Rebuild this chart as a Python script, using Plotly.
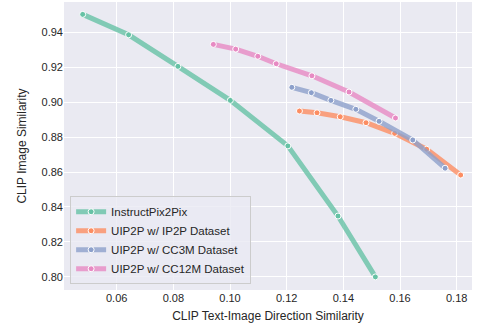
import plotly.graph_objects as go

series_names = ["InstructPix2Pix", "UIP2P w/ IP2P Dataset", "UIP2P w/ CC3M Dataset", "UIP2P w/ CC12M Dataset"]

ip2p_x = [0.048, 0.0642, 0.0816, 0.1001, 0.1204, 0.1381, 0.1513]
ip2p_y = [0.9504, 0.9387, 0.9206, 0.9011, 0.8750, 0.8348, 0.7999]

uip2p_ip2p_x = [0.1245, 0.1307, 0.1389, 0.1480, 0.1581, 0.1694, 0.1814]
uip2p_ip2p_y = [0.8950, 0.8940, 0.8917, 0.8883, 0.8822, 0.8731, 0.8583]

uip2p_cc3m_x = [0.1218, 0.1287, 0.1356, 0.1444, 0.1526, 0.1645, 0.1759]
uip2p_cc3m_y = [0.9086, 0.9055, 0.9011, 0.8960, 0.8891, 0.8784, 0.8622]

uip2p_cc12m_x = [0.0941, 0.1020, 0.1098, 0.1163, 0.1289, 0.1420, 0.1584]
uip2p_cc12m_y = [0.9332, 0.9305, 0.9264, 0.9221, 0.9152, 0.9059, 0.8910]

line_colors = ["rgba(102,194,165,0.8)", "rgba(252,141,98,0.8)", "rgba(141,160,203,0.8)", "rgba(231,138,195,0.8)"]
marker_colors = ["#66c2a5", "#fc8d62", "#8da0cb", "#e78ac3"]

xs = [ip2p_x, uip2p_ip2p_x, uip2p_cc3m_x, uip2p_cc12m_x]
ys = [ip2p_y, uip2p_ip2p_y, uip2p_cc3m_y, uip2p_cc12m_y]

fig = go.Figure()
for name, x, y, lc, mc in zip(series_names, xs, ys, line_colors, marker_colors):
    fig.add_trace(go.Scatter(
        x=x, y=y, mode="lines+markers", name=name,
        line=dict(color=lc, width=5),
        marker=dict(color=mc, size=6, line=dict(color="white", width=1)),
    ))

font_family = "Liberation Sans, Arial, sans-serif"
fig.update_layout(
    width=477, height=327,
    margin=dict(l=64, r=5, t=2, b=37, autoexpand=False),
    paper_bgcolor="white",
    plot_bgcolor="#EAEAF2",
    font=dict(family=font_family, size=11, color="#262626"),
    showlegend=True,
    legend=dict(
        x=0.015, y=0.02, xanchor="left", yanchor="bottom",
        bgcolor="rgba(234,234,242,0.8)", bordercolor="#cccccc", borderwidth=1,
        font=dict(size=11.5, color="#262626"),
        tracegroupgap=0, itemwidth=30,
    ),
    xaxis=dict(
        range=[0.0414, 0.1854], dtick=0.02, tick0=0.06, tickformat=".2f",
        showgrid=True, gridcolor="white", gridwidth=1, zeroline=False,
        showline=False, ticks="",
        title=dict(text="CLIP Text-Image Direction Similarity", font=dict(size=12), standoff=8),
    ),
    yaxis=dict(
        range=[0.7924, 0.9575], dtick=0.02, tick0=0.80, tickformat=".2f",
        showgrid=True, gridcolor="white", gridwidth=1, zeroline=False,
        showline=False, ticks="",
        title=dict(text="CLIP Image Similarity", font=dict(size=12), standoff=12),
    ),
)

fig.write_html("out.html", config={"displayModeBar": False},
               post_script="document.body.style.margin='0px';document.body.style.overflow='hidden';")
